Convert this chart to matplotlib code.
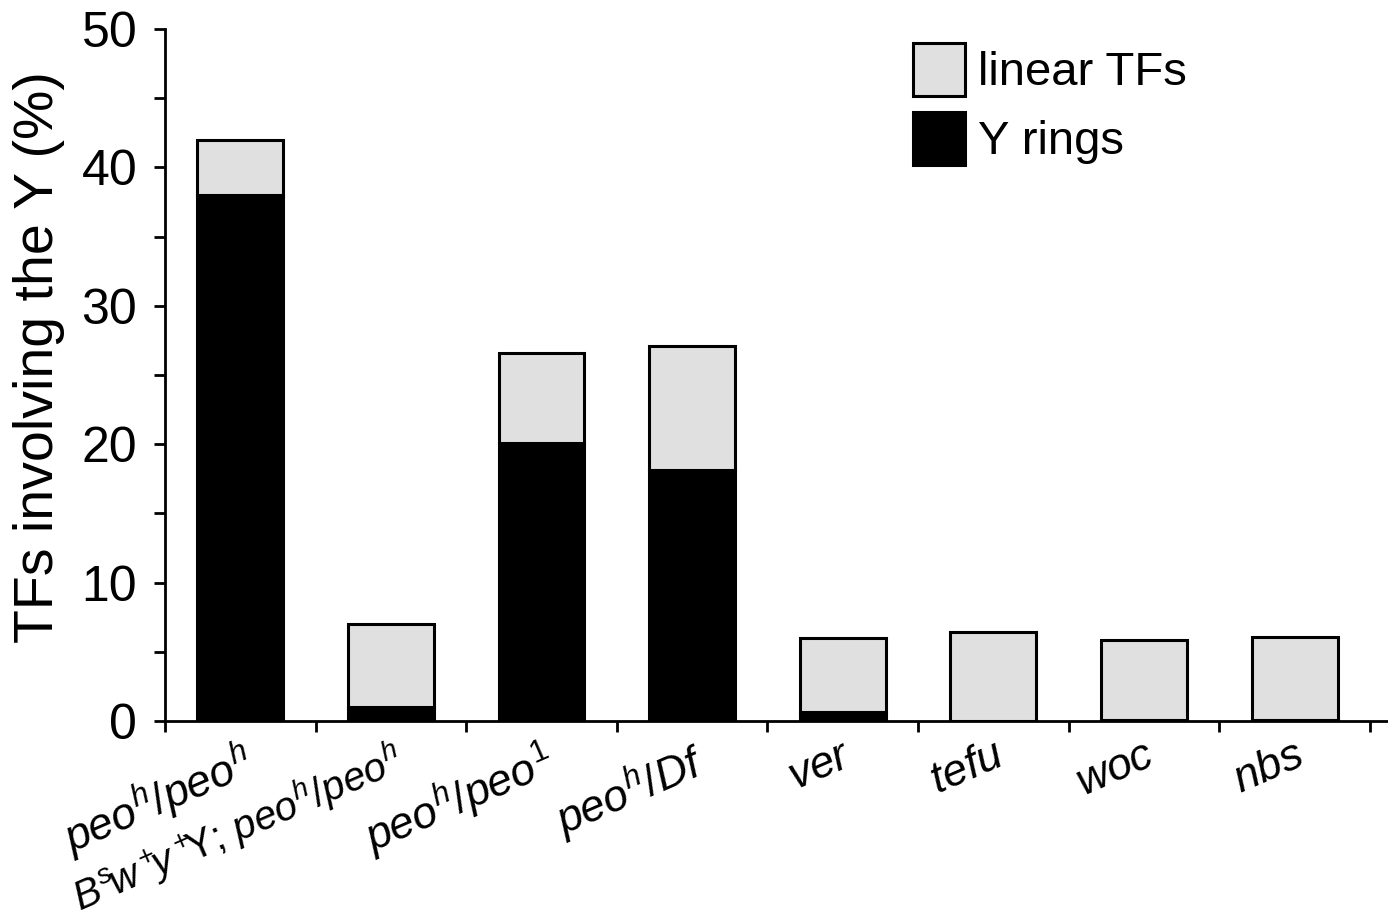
import matplotlib
matplotlib.use("Agg")
import matplotlib.pyplot as plt
from matplotlib.patches import Patch

plt.rcParams['font.family'] = ['Liberation Sans', 'DejaVu Sans']
plt.rcParams['mathtext.fontset'] = 'custom'
plt.rcParams['mathtext.rm'] = 'Liberation Sans'
plt.rcParams['mathtext.it'] = 'Liberation Sans:italic'

categories = [
    r'$\mathit{peo^h/peo^h}$',
    r'$\mathit{B^s\!w^+\!\!y^+\!\!}\mathrm{Y};\,\mathit{peo^h/peo^h}$',
    r'$\mathit{peo^h/peo^1}$',
    r'$\mathit{peo^h/Df}$',
    r'$\mathit{ver}$',
    r'$\mathit{tefu}$',
    r'$\mathit{woc}$',
    r'$\mathit{nbs}$',
]
y_rings = [38.0, 1.0, 20.1, 18.1, 0.65, 0.0, 0.05, 0.05]
totals = [42.0, 7.0, 26.6, 27.1, 6.0, 6.4, 5.85, 6.1]
linear = [t - r for t, r in zip(totals, y_rings)]

fig = plt.figure(figsize=(13.88, 9.24), dpi=100)
ax = fig.add_axes([0.1189, 0.2197, 0.8811, 0.7489])

x = list(range(len(categories)))
w = 0.57
ax.bar(x, y_rings, width=w, color='black', edgecolor='black', linewidth=2.2, zorder=2)
ax.bar(x, linear, width=w, bottom=y_rings, color='#e0e0e0', edgecolor='black', linewidth=2.2, zorder=2)

ax.set_xlim(-0.5, 7.62)
ax.set_ylim(0, 50)
for s in ['top', 'right']:
    ax.spines[s].set_visible(False)
for s in ['left', 'bottom']:
    ax.spines[s].set_linewidth(2.0)

ax.set_yticks([0, 10, 20, 30, 40, 50])
ax.set_yticks([5, 15, 25, 35, 45], minor=True)
ax.tick_params(axis='y', which='both', direction='out', length=8, width=2.0, labelsize=36, pad=12)
ax.set_xticks([i - 0.5 for i in range(9)])
ax.set_xticklabels([])
ax.tick_params(axis='x', which='major', direction='out', length=8, width=2.0)
ax.set_xticks(x, minor=True)
ax.set_xticklabels(categories, minor=True, rotation=23.5, ha='right', rotation_mode='anchor', fontsize=32)
ax.tick_params(axis='x', which='minor', length=0, pad=10)
ax.get_xticklabels(minor=True)[1].set_fontsize(29)

ax.set_ylabel('TFs involving the Y (%)', fontsize=40)
ax.yaxis.set_label_coords(-0.0818, 0.526)

handles = [Patch(facecolor='#e0e0e0', edgecolor='black', linewidth=2.2, label='linear TFs'),
           Patch(facecolor='black', edgecolor='black', linewidth=2.2, label='Y rings')]
fig.legend(handles=handles, loc='upper left', bbox_to_anchor=(913/1388, 1 - 43/924),
           frameon=False, fontsize=34, handlelength=1.1, handleheight=1.35,
           handletextpad=0.28, labelspacing=0.34, borderpad=0, borderaxespad=0)

fig.savefig('out.png', dpi=100)
